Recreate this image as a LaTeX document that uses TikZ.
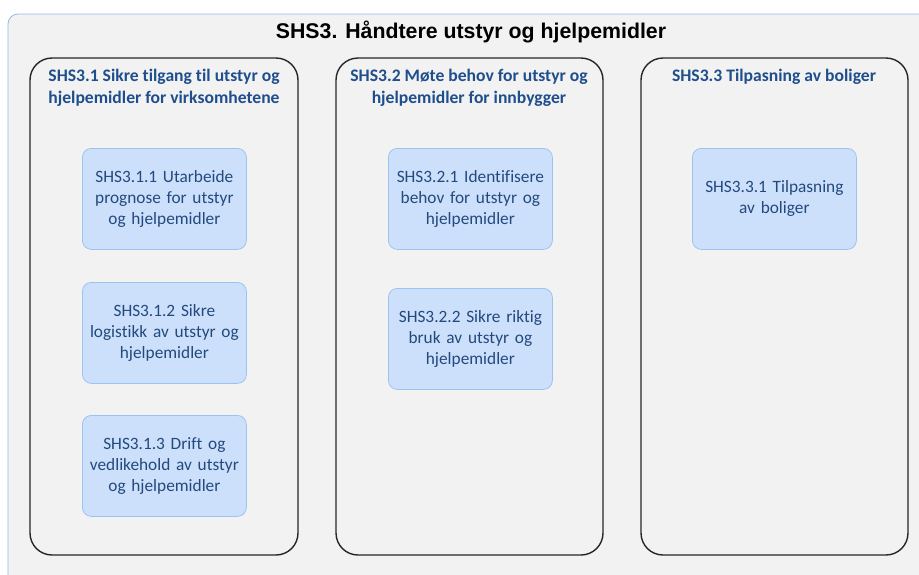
\documentclass[tikz,border=0pt]{standalone}
\usepackage{fontspec}
\setmainfont[Ligatures=NoCommon]{Carlito}
\newfontfamily\titlefont{Liberation Sans}
\definecolor{bgfill}{HTML}{F2F2F2}
\definecolor{frameblue}{HTML}{8EBCEB}
\definecolor{headblue}{HTML}{1F4E8C}
\definecolor{taskfill}{HTML}{CCE0FC}
\definecolor{taskline}{HTML}{9CC3F0}
\definecolor{tasktext}{HTML}{23497D}
\begin{document}
\begin{tikzpicture}[x=1pt,y=-1pt,
  panel/.style={draw=black!85,line width=1.4pt,rounded corners=22pt},
  heading/.style={text=headblue,font=\fontsize{17.6}{22}\selectfont\bfseries,align=center,anchor=north},
  task/.style={draw=taskline,fill=taskfill,line width=0.8pt,rounded corners=9pt,
    minimum width=164pt,minimum height=101pt,text width=160pt,align=center,
    text=tasktext,font=\fontsize{17.3}{21}\selectfont,anchor=north west,inner sep=0pt}]
\useasboundingbox (0,0) rectangle (919,574);
% outer frame, running past the right and bottom edges
\draw[frameblue,fill=bgfill,line width=0.8pt,rounded corners=10pt] (8,600) -- (8,14) -- (940,14) -- (940,600);
\node[font=\titlefont\fontsize{21.3}{24}\selectfont\bfseries,anchor=base] (title) at (471,38) {SHS3. Håndtere utstyr og hjelpemidler};
% three process columns
\draw[panel] (30,58) rectangle (298,555);
\draw[panel] (336,58) rectangle (603,555);
\draw[panel] (641,58) rectangle (908,555);
\node[heading] (h1) at (164,66) {SHS3.1 Sikre tilgang til utstyr og\\hjelpemidler for virksomhetene};
\node[heading] (h2) at (469,66) {SHS3.2 Møte behov for utstyr og\\hjelpemidler for innbygger};
\node[heading] (h3) at (774,66) {SHS3.3 Tilpasning av boliger};
% sub-processes
\node[task] (t11) at (82,148) {SHS3.1.1 Utarbeide\\prognose for utstyr\\og hjelpemidler};
\node[task] (t12) at (82,282) {SHS3.1.2 Sikre\\logistikk av utstyr og\\hjelpemidler};
\node[task] (t13) at (82,415) {SHS3.1.3 Drift og\\vedlikehold av utstyr\\og hjelpemidler};
\node[task] (t21) at (388,148) {SHS3.2.1 Identifisere\\behov for utstyr og\\hjelpemidler};
\node[task] (t22) at (388,288) {SHS3.2.2 Sikre riktig\\bruk av utstyr og\\hjelpemidler};
\node[task] (t31) at (692,148) {SHS3.3.1 Tilpasning\\av boliger};
\end{tikzpicture}
\end{document}
